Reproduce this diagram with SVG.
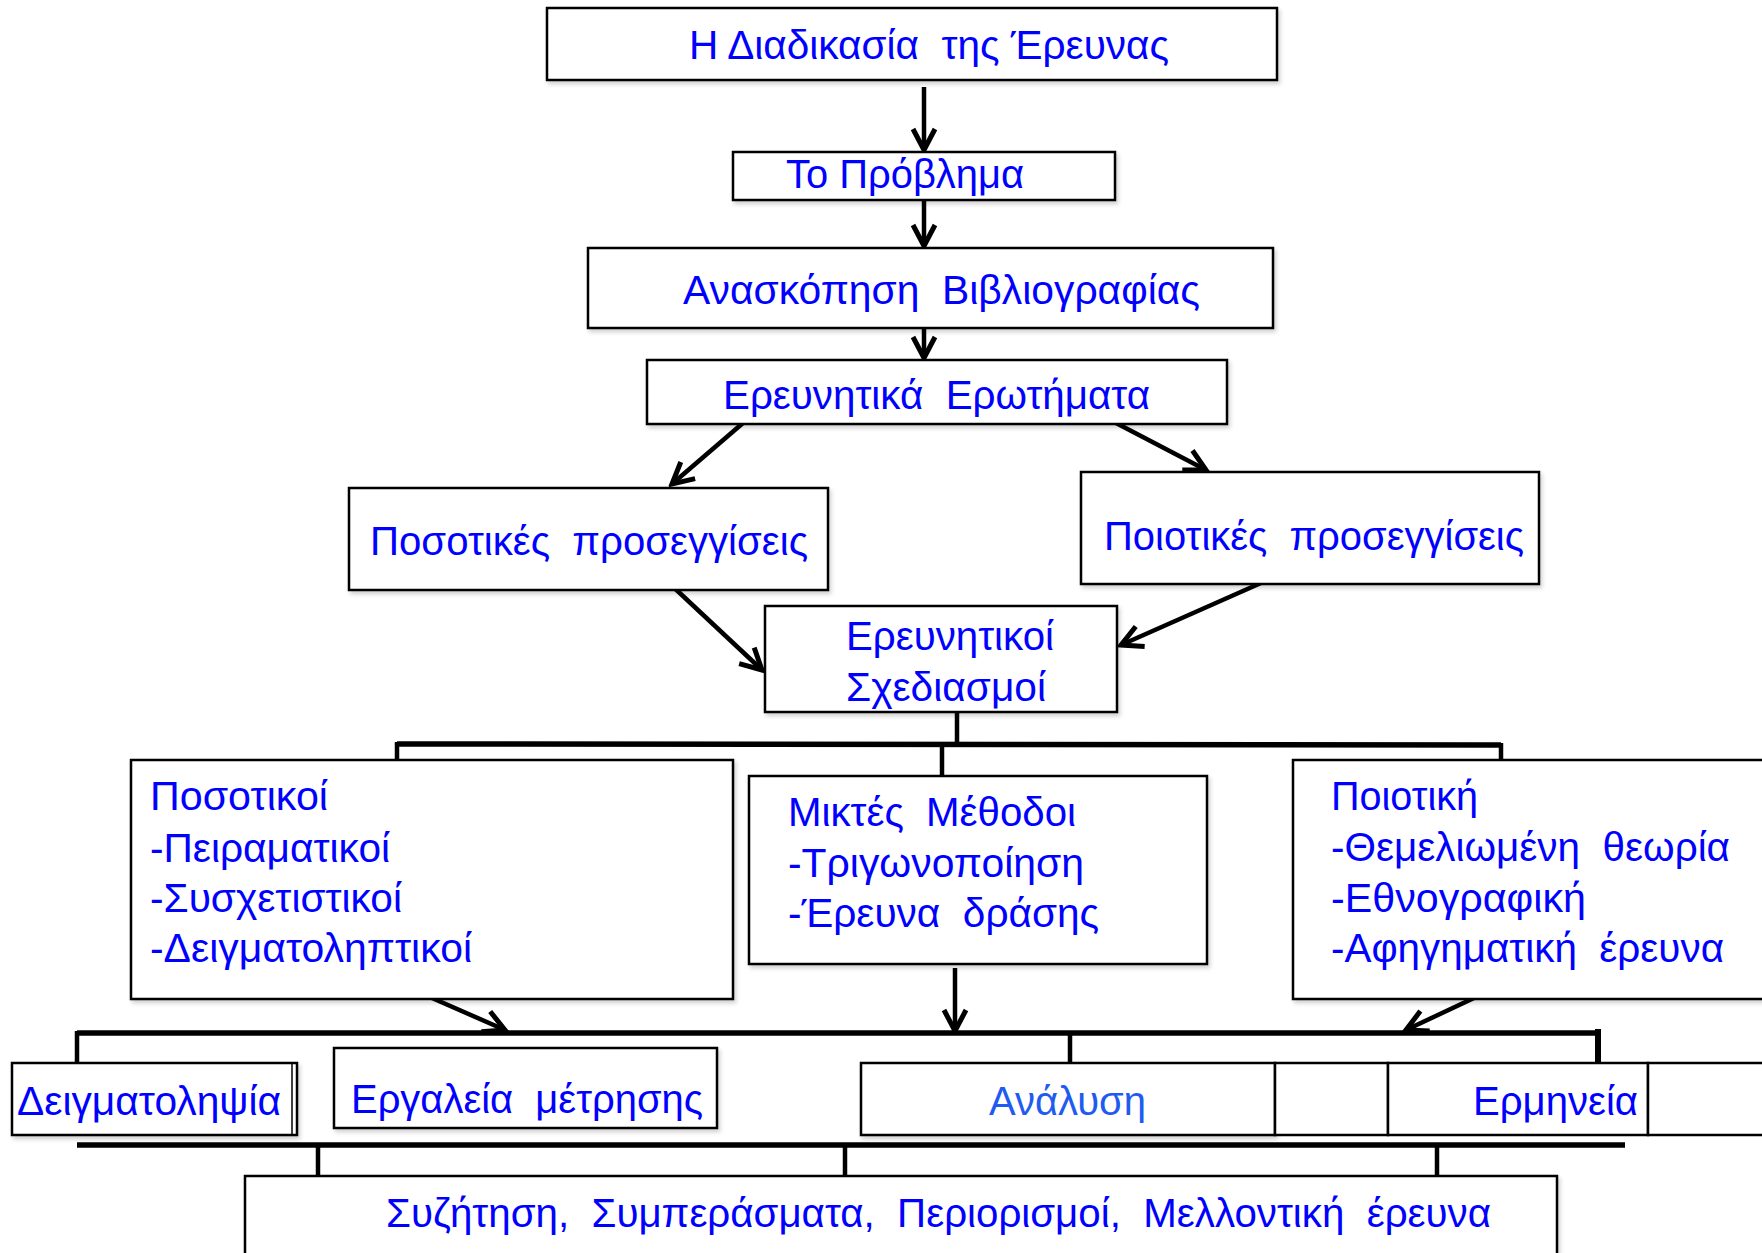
<svg xmlns="http://www.w3.org/2000/svg" width="1762" height="1253" viewBox="0 0 1762 1253">
<defs>
<style>
.box{fill:#fff;stroke:#000;stroke-width:2.5;filter:url(#sh)}
.cell{fill:#fff;stroke:#000;stroke-width:2.5}
.t{font-family:"Liberation Sans",Arial,sans-serif;font-size:40px;fill:#0000FF;white-space:pre}
.t2{fill:#1F5BF0}
.arr{stroke:#000;stroke-width:4.5;fill:none;marker-end:url(#ah)}
.bar{stroke:#000;stroke-width:5.5;fill:none}
.drop{stroke:#000;stroke-width:4.5;fill:none}
</style>
<filter id="sh" x="-5%" y="-5%" width="112%" height="120%">
<feDropShadow dx="2" dy="3" stdDeviation="2" flood-color="#000" flood-opacity="0.18"/>
</filter>
<marker id="ah" markerUnits="userSpaceOnUse" viewBox="-26 -16 30 32" refX="0" refY="0" markerWidth="30" markerHeight="32" orient="auto">
<path d="M-21,-11 L0,0 L-21,11" fill="none" stroke="#000" stroke-width="5" stroke-linejoin="miter"/>
</marker>
</defs>
<rect width="1762" height="1253" fill="#fff"/>

<g id="connectors">
<line class="arr" x1="924" y1="87" x2="924" y2="150"/>
<line class="arr" x1="924" y1="200" x2="924" y2="246"/>
<line class="arr" x1="924" y1="328" x2="924" y2="358"/>
<line class="arr" x1="743" y1="423" x2="672" y2="484"/>
<line class="arr" x1="1116" y1="423" x2="1206" y2="470"/>
<line class="arr" x1="668" y1="582" x2="762" y2="670"/>
<line class="arr" x1="1261" y1="583" x2="1121" y2="645"/>
<line class="arr" x1="432" y1="998" x2="505" y2="1030"/>
<line class="arr" x1="955" y1="968" x2="955" y2="1031"/>
<line class="arr" x1="1474" y1="998" x2="1406" y2="1030"/>
<line class="drop" x1="957" y1="712" x2="957" y2="744"/>
<line class="bar" x1="397" y1="744" x2="1501" y2="745"/>
<line class="drop" x1="397" y1="742" x2="397" y2="761"/>
<line class="drop" x1="942" y1="744" x2="942" y2="776"/>
<line class="drop" x1="1501" y1="743" x2="1501" y2="760"/>
<line class="bar" x1="77" y1="1033" x2="1595" y2="1033"/>
<line class="drop" x1="77" y1="1031" x2="77" y2="1063"/>
<line class="drop" x1="1070" y1="1033" x2="1070" y2="1063"/>
<line class="bar" x1="1598" y1="1029" x2="1598" y2="1063" style="stroke-width:6"/>
<line class="bar" x1="77" y1="1145" x2="1625" y2="1145"/>
<line class="drop" x1="318" y1="1145" x2="318" y2="1176"/>
<line class="drop" x1="845" y1="1145" x2="845" y2="1176"/>
<line class="drop" x1="1437" y1="1145" x2="1437" y2="1176"/>
</g>

<g id="n1">
<rect class="box" x="547" y="8" width="730" height="72"/>
<text class="t" x="689" y="59" textLength="480" lengthAdjust="spacingAndGlyphs">Η Διαδικασία  της Έρευνας</text>
</g>
<g id="n2">
<rect class="box" x="733" y="152" width="382" height="48"/>
<text class="t" x="786" y="188" textLength="238" lengthAdjust="spacingAndGlyphs">Το Πρόβλημα</text>
</g>
<g id="n3">
<rect class="box" x="588" y="248" width="685" height="80"/>
<text class="t" x="683" y="304" textLength="517" lengthAdjust="spacingAndGlyphs">Ανασκόπηση  Βιβλιογραφίας</text>
</g>
<g id="n4">
<rect class="box" x="647" y="360" width="580" height="64"/>
<text class="t" x="723" y="409" textLength="427" lengthAdjust="spacingAndGlyphs">Ερευνητικά  Ερωτήματα</text>
</g>
<g id="n5">
<rect class="box" x="349" y="488" width="479" height="102"/>
<text class="t" x="370" y="555" textLength="438" lengthAdjust="spacingAndGlyphs">Ποσοτικές  προσεγγίσεις</text>
</g>
<g id="n6">
<rect class="box" x="1081" y="472" width="458" height="112"/>
<text class="t" x="1104" y="550" textLength="420" lengthAdjust="spacingAndGlyphs">Ποιοτικές  προσεγγίσεις</text>
</g>
<g id="n7">
<rect class="box" x="765" y="606" width="352" height="106"/>
<text class="t" x="846" y="650" textLength="208" lengthAdjust="spacingAndGlyphs">Ερευνητικοί</text>
<text class="t" x="846" y="701" textLength="200" lengthAdjust="spacingAndGlyphs">Σχεδιασμοί</text>
</g>
<g id="n8">
<rect class="box" x="131" y="760" width="602" height="239"/>
<text class="t" x="150" y="810" textLength="178" lengthAdjust="spacingAndGlyphs">Ποσοτικοί</text>
<text class="t" x="150" y="862" textLength="240" lengthAdjust="spacingAndGlyphs">-Πειραματικοί</text>
<text class="t" x="150" y="912" textLength="252" lengthAdjust="spacingAndGlyphs">-Συσχετιστικοί</text>
<text class="t" x="150" y="962" textLength="322" lengthAdjust="spacingAndGlyphs">-Δειγματοληπτικοί</text>
</g>
<g id="n9">
<rect class="box" x="749" y="776" width="458" height="188"/>
<text class="t" x="788" y="826" textLength="288" lengthAdjust="spacingAndGlyphs">Μικτές  Μέθοδοι</text>
<text class="t" x="788" y="877" textLength="296" lengthAdjust="spacingAndGlyphs">-Τριγωνοποίηση</text>
<text class="t" x="788" y="927" textLength="311" lengthAdjust="spacingAndGlyphs">-Έρευνα  δράσης</text>
</g>
<g id="n10">
<rect class="box" x="1293" y="760" width="490" height="239"/>
<text class="t" x="1331" y="810" textLength="147" lengthAdjust="spacingAndGlyphs">Ποιοτική</text>
<text class="t" x="1331" y="861" textLength="399" lengthAdjust="spacingAndGlyphs">-Θεμελιωμένη  θεωρία</text>
<text class="t" x="1331" y="912" textLength="255" lengthAdjust="spacingAndGlyphs">-Εθνογραφική</text>
<text class="t" x="1331" y="962" textLength="393" lengthAdjust="spacingAndGlyphs">-Αφηγηματική  έρευνα</text>
</g>
<g id="n11">
<rect class="box" x="12" y="1063" width="285" height="72"/>
<line x1="292" y1="1063" x2="292" y2="1135" stroke="#000" stroke-width="1.5"/>
<text class="t" x="17" y="1115" textLength="264" lengthAdjust="spacingAndGlyphs">Δειγματοληψία</text>
</g>
<g id="n12">
<rect class="box" x="334" y="1048" width="383" height="80"/>
<text class="t" x="351" y="1113" textLength="352" lengthAdjust="spacingAndGlyphs">Εργαλεία  μέτρησης</text>
</g>
<g id="n13">
<rect class="box" x="861" y="1063" width="414" height="72"/>
<text class="t t2" x="989" y="1115" textLength="157" lengthAdjust="spacingAndGlyphs">Ανάλυση</text>
</g>
<g id="cell-a">
<rect class="cell" x="1275" y="1063" width="113" height="72"/>
</g>
<g id="n14">
<rect class="cell" x="1388" y="1063" width="260" height="72"/>
<text class="t" x="1473" y="1115" textLength="165" lengthAdjust="spacingAndGlyphs">Ερμηνεία</text>
</g>
<g id="cell-b">
<rect class="cell" x="1648" y="1063" width="130" height="72"/>
</g>
<g id="n15">
<rect class="box" x="245" y="1176" width="1312" height="90"/>
<text class="t" x="386" y="1227" textLength="1105" lengthAdjust="spacingAndGlyphs">Συζήτηση,  Συμπεράσματα,  Περιορισμοί,  Μελλοντική  έρευνα</text>
</g>
</svg>
